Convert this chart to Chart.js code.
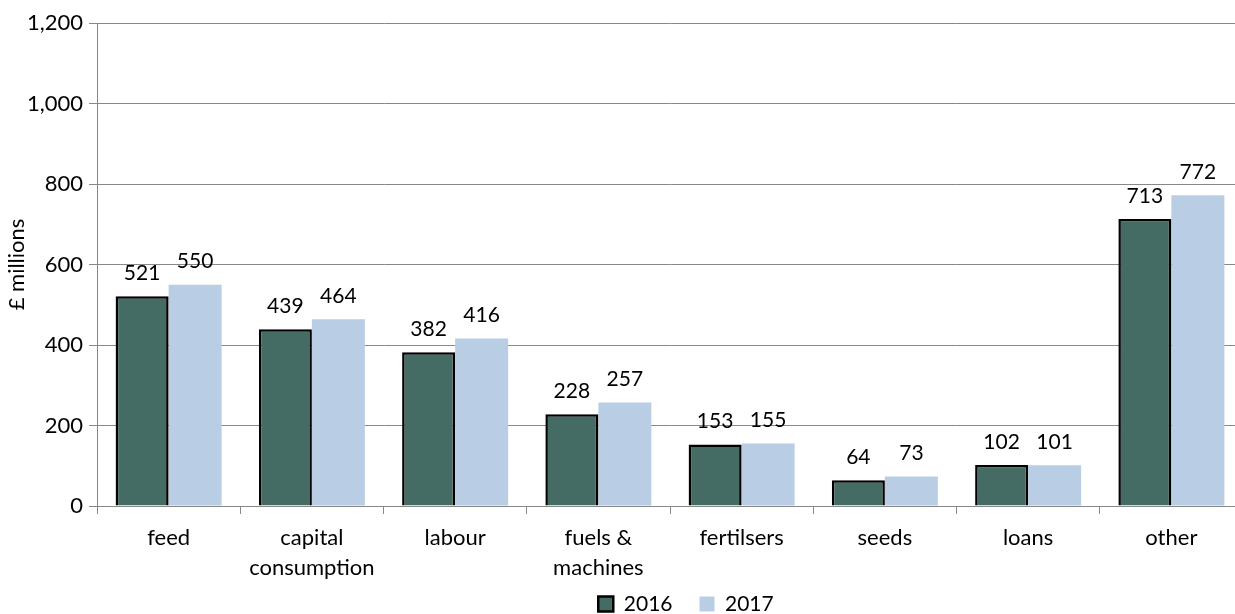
<!DOCTYPE html>
<html><head><meta charset="utf-8">
<script src="https://cdn.jsdelivr.net/npm/chart.js@4.4.1/dist/chart.umd.min.js"></script>
<style>html,body{margin:0;padding:0;background:#fff;overflow:hidden}#wrap{width:1235px;height:614px;overflow:hidden}</style>
</head><body><div id="wrap"><canvas id="c" width="1243" height="614"></canvas></div>
<script>
const categories = ['feed', ['capital','consumption'], 'labour', ['fuels &','machines'], 'fertilsers', 'seeds', 'loans', 'other'];
const series2016 = [521, 439, 382, 228, 153, 64, 102, 713];
const series2017 = [550, 464, 416, 257, 155, 73, 101, 772];
const yTicks = [0, 200, 400, 600, 800, 1000, 1200];
const seriesNames = ['2016', '2017'];

const FONT = 'Lato, "Open Sans", sans-serif';

const labelPlugin = {
  id: 'barLabels',
  afterDatasetsDraw(chart) {
    const ctx = chart.ctx;
    ctx.save();
    ctx.font = '21px ' + FONT;
    ctx.fillStyle = '#000';
    ctx.textAlign = 'center';
    ctx.textBaseline = 'middle';
    chart.data.datasets.forEach((ds, i) => {
      chart.getDatasetMeta(i).data.forEach((bar, j) => {
        ctx.fillText(ds.data[j].toLocaleString('en-GB'), bar.x, bar.y - 23);
      });
    });
    ctx.restore();
  }
};

const legendFix = {
  id: 'legendFix',
  beforeLayout(chart) {
    const lg = chart.legend;
    if (lg && !lg._patched) {
      const origFit = lg.fit.bind(lg);
      lg.fit = function () { origFit(); this.height = 30; };
      lg._patched = true;
    }
  },
  beforeDraw(chart) {
    const lg = chart.legend;
    if (!lg || lg._shifted) return;
    const dx = 686 - (lg.left + lg.right) / 2;
    const dy = 604 - (lg.top + lg.options.labels.padding + 10.5);
    lg.left += dx; lg.right += dx; lg.top += dy;
    lg.bottom = chart.height;
    lg._shifted = true;
  }
};

new Chart(document.getElementById('c'), {
  type: 'bar',
  data: {
    labels: categories,
    datasets: [
      { label: seriesNames[0], data: series2016, backgroundColor: '#456C64', borderColor: '#000', borderWidth: 2.5, borderSkipped: 'bottom' },
      { label: seriesNames[1], data: series2017, backgroundColor: '#B9CDE5', borderWidth: 0 }
    ]
  },
  options: {
    responsive: false,
    animation: false,
    devicePixelRatio: 1,
    layout: { padding: { top: 23, right: 0, left: 0, bottom: 0 } },
    datasets: { bar: { categoryPercentage: 0.74, barPercentage: 1 } },
    plugins: {
      legend: {
        position: 'bottom',
        labels: {
          font: { family: FONT, size: 21 },
          color: '#000',
          boxWidth: 15, boxHeight: 15,
          padding: 27,
          generateLabels(chart) {
            return chart.data.datasets.map((ds, i) => ({
              text: ds.label, fillStyle: ds.backgroundColor,
              strokeStyle: i === 0 ? '#000' : ds.backgroundColor,
              lineWidth: i === 0 ? 2.5 : 0, datasetIndex: i, fontColor: '#000'
            }));
          }
        }
      },
      tooltip: { enabled: false }
    },
    scales: {
      x: {
        grid: { offset: true, drawOnChartArea: false, color: '#888', tickLength: 8 },
        border: { color: '#888', width: 1 },
        ticks: { font: { family: FONT, size: 22, lineHeight: 1.36 }, color: '#000', maxRotation: 0, autoSkip: false, padding: 9 },
        afterFit(s) { s.height = 78; }
      },
      y: {
        min: 0, max: 1200,
        afterBuildTicks(s) { s.ticks = yTicks.map(v => ({ value: v })); },
        grid: { color: '#888', tickLength: 8 },
        border: { color: '#888', width: 1 },
        ticks: { font: { family: FONT, size: 22 }, color: '#000', padding: 6,
          callback: v => v.toLocaleString('en-GB') },
        title: { display: true, text: '£ millions', font: { family: FONT, size: 22 }, color: '#000', padding: { top: 4, bottom: 4 } },
        afterFit(s) { s.width = 97; }
      }
    }
  },
  plugins: [labelPlugin, legendFix]
});
</script>
</body></html>
